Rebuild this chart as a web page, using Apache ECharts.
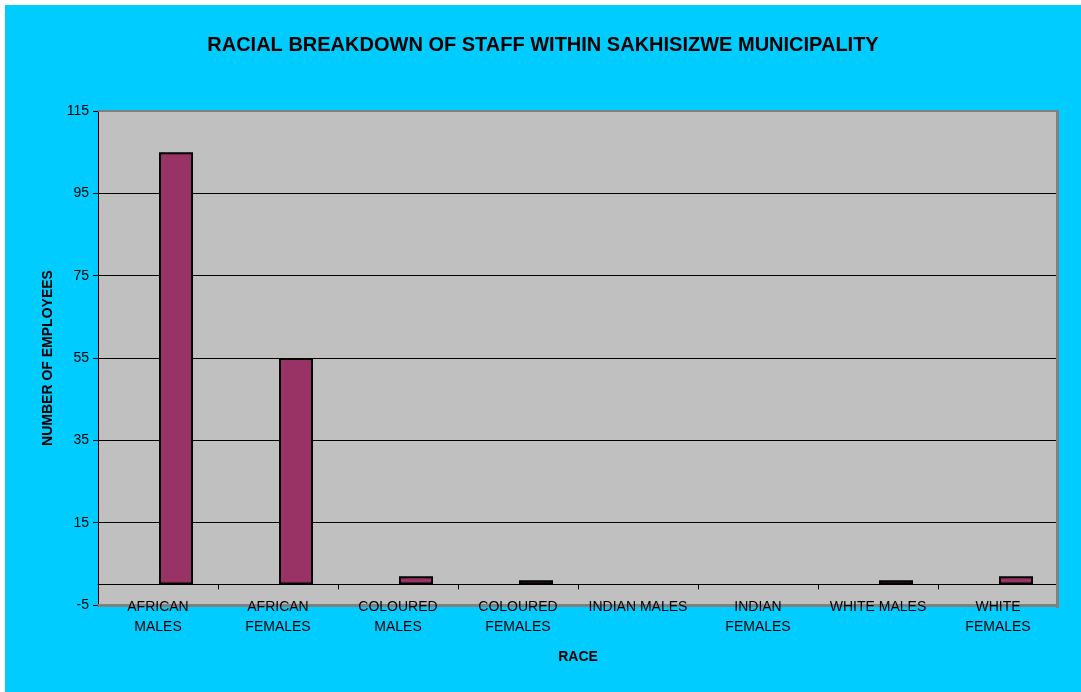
<!DOCTYPE html>
<html>
<head>
<meta charset="utf-8">
<script src="https://cdn.jsdelivr.net/npm/echarts@6/dist/echarts.min.js"></script>
<style>
    html, body { margin: 0; padding: 0; background: #ffffff; }
    #chart { position: absolute; left: 5px; top: 5px; width: 1076px; height: 687px; }
</style>
</head>
<body>
<div id="chart"></div>
<script>
// categories and values
const categories = [
    'AFRICAN\nMALES', 'AFRICAN\nFEMALES', 'COLOURED\nMALES', 'COLOURED\nFEMALES',
    'INDIAN MALES', 'INDIAN\nFEMALES', 'WHITE MALES', 'WHITE\nFEMALES'
];
const employees = [105, 55, 2, 1, 0, 0, 1, 2];

const yMin = -5;
const yMax = 115;
const yStep = 20;

const font = 'Liberation Sans, Arial, sans-serif';

const options = {
    backgroundColor: '#00CCFF',
    animation: false,
    title: {
        text: 'RACIAL BREAKDOWN OF STAFF WITHIN SAKHISIZWE MUNICIPALITY',
        left: 'center',
        top: 25,
        textStyle: { fontFamily: font, fontSize: 20, fontWeight: 'bold', color: '#000' }
    },
    grid: {
        left: 93,
        right: 23,
        top: 106,
        bottom: 87,
        show: true,
        backgroundColor: '#C0C0C0',
        borderWidth: 0
    },
    xAxis: [
        {
            // labels under the plot area
            type: 'category',
            data: categories,
            position: 'bottom',
            z: 10,
            axisLine: { show: false, onZero: false },
            axisTick: { show: false },
            axisLabel: {
                margin: -8,
                interval: 0,
                fontFamily: font,
                fontSize: 14,
                color: '#000',
                lineHeight: 20
            },
            name: 'RACE',
            nameLocation: 'middle',
            nameGap: 45,
            nameTextStyle: { fontFamily: font, fontSize: 14, fontWeight: 'bold', color: '#000' }
        },
        {
            // category line at zero
            type: 'category',
            data: categories,
            position: 'bottom',
            axisLine: { show: true, onZero: true, lineStyle: { color: '#000', width: 1 } },
            axisTick: { show: true, length: 5, lineStyle: { color: '#000' } },
            axisLabel: { show: false }
        }
    ],
    yAxis: {
        type: 'value',
        min: yMin,
        max: yMax,
        interval: yStep,
        axisLine: { show: true, lineStyle: { color: '#000', width: 1 } },
        axisTick: { show: true, length: 5, lineStyle: { color: '#000' } },
        axisLabel: { fontFamily: font, fontSize: 14, color: '#000', margin: 9 },
        splitLine: {
            show: true,
            lineStyle: {
                color: ['#808080', '#000', '#000', '#000', '#000', '#000', '#808080'],
                width: 1
            }
        },
        name: 'NUMBER OF EMPLOYEES',
        nameLocation: 'middle',
        nameRotate: 90,
        nameGap: 43,
        nameTextStyle: { fontFamily: font, fontSize: 14, fontWeight: 'bold', color: '#000' }
    },
    series: [
        {
            // empty series slot, pushes the bars right of the category centre
            name: '',
            type: 'bar',
            xAxisIndex: 0,
            data: [],
            barWidth: 34,
            barGap: '6%'
        },
        {
            name: 'Employees',
            type: 'bar',
            xAxisIndex: 0,
            data: employees.map(v => (v === 0 ? '-' : v)),
            barWidth: 34,
            barGap: '6%',
            itemStyle: { color: '#993366', borderColor: '#000', borderWidth: 2 }
        }
    ],
    graphic: [
        // plot-area edges
        { type: 'rect', z: 2, shape: { x: 1051, y: 105, width: 3, height: 498 }, style: { fill: '#808080' } },
        { type: 'rect', z: 2, shape: { x: 93, y: 599, width: 961, height: 3 }, style: { fill: '#808080' } },
        { type: 'rect', z: 2, shape: { x: 93, y: 105, width: 961, height: 2 }, style: { fill: '#808080' } }
    ]
};

const E = echarts.init(document.getElementById('chart'));
window.onresize = function () {
    E.resize();
};
E.setOption(options);
</script>
</body>
</html>
